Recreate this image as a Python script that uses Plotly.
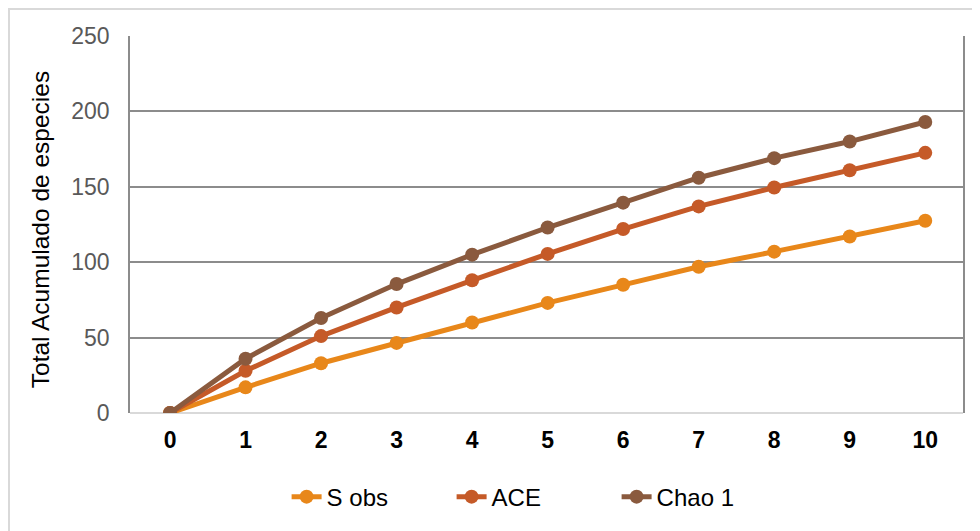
import plotly.graph_objects as go

x_vals = [0, 1, 2, 3, 4, 5, 6, 7, 8, 9, 10]
s_obs = [0, 17, 33, 46.5, 60, 73, 85, 97, 107, 117, 127.5]
ace = [0, 28, 51, 70, 88, 105.5, 122, 137, 149.5, 161, 172.5]
chao1 = [0, 36, 63, 85.5, 105, 123, 139.5, 156, 169, 180, 193]
series_names = ["S obs", "ACE", "Chao 1"]
colors = ["#E8871A", "#C55A28", "#8A5A3E"]

fig = go.Figure()
for name, vals, c in zip(series_names, [s_obs, ace, chao1], colors):
    fig.add_trace(go.Scatter(
        x=x_vals, y=vals, name=name, mode="lines+markers",
        line=dict(color=c, width=5),
        marker=dict(color=c, size=14),
    ))

fig.update_layout(
    width=980, height=531,
    margin=dict(l=122, r=25, t=28, b=126),
    paper_bgcolor="white", plot_bgcolor="white",
    font=dict(family="Liberation Sans, Arial", size=23, color="#000000"),
    showlegend=True,
    legend=dict(orientation="h", x=0.188, xanchor="left", y=-0.223, yanchor="middle",
                font=dict(size=24, color="#000000"), entrywidth=120),
    xaxis=dict(
        range=[-0.53, 10.5], tickmode="array", tickvals=x_vals,
        ticktext=[f"<b>{v}</b>" for v in x_vals],
        showgrid=False, zeroline=False, showline=False, ticks="",
        tickfont=dict(size=23, color="#000000"), ticklabelstandoff=11,
    ),
    yaxis=dict(
        range=[0, 250], tickmode="array", tickvals=[0, 50, 100, 150, 200, 250],
        showgrid=True, gridcolor="#8c8c8c", gridwidth=1.5,
        zeroline=True, zerolinecolor="#d9d9d9", zerolinewidth=2,
        showline=True, mirror=True, linecolor="#8c8c8c", linewidth=1.5,
        ticks="", tickfont=dict(size=23, color="#595959"), ticklabelstandoff=14,
        automargin=False,
    ),
    annotations=[dict(text="Total Acumulado de especies", xref="paper", yref="paper",
                      x=-0.108, y=0.485, xanchor="center", yanchor="middle",
                      textangle=-90, showarrow=False,
                      font=dict(size=24.5, color="#000000"))],
    shapes=[dict(type="rect", xref="paper", yref="paper",
                 x0=(1 - 122) / 833, x1=1.2, y0=-0.5, y1=(405 - 1) / 377,
                 line=dict(color="#d9d9d9", width=2), layer="below")],
)

fig.write_html("out.html")
